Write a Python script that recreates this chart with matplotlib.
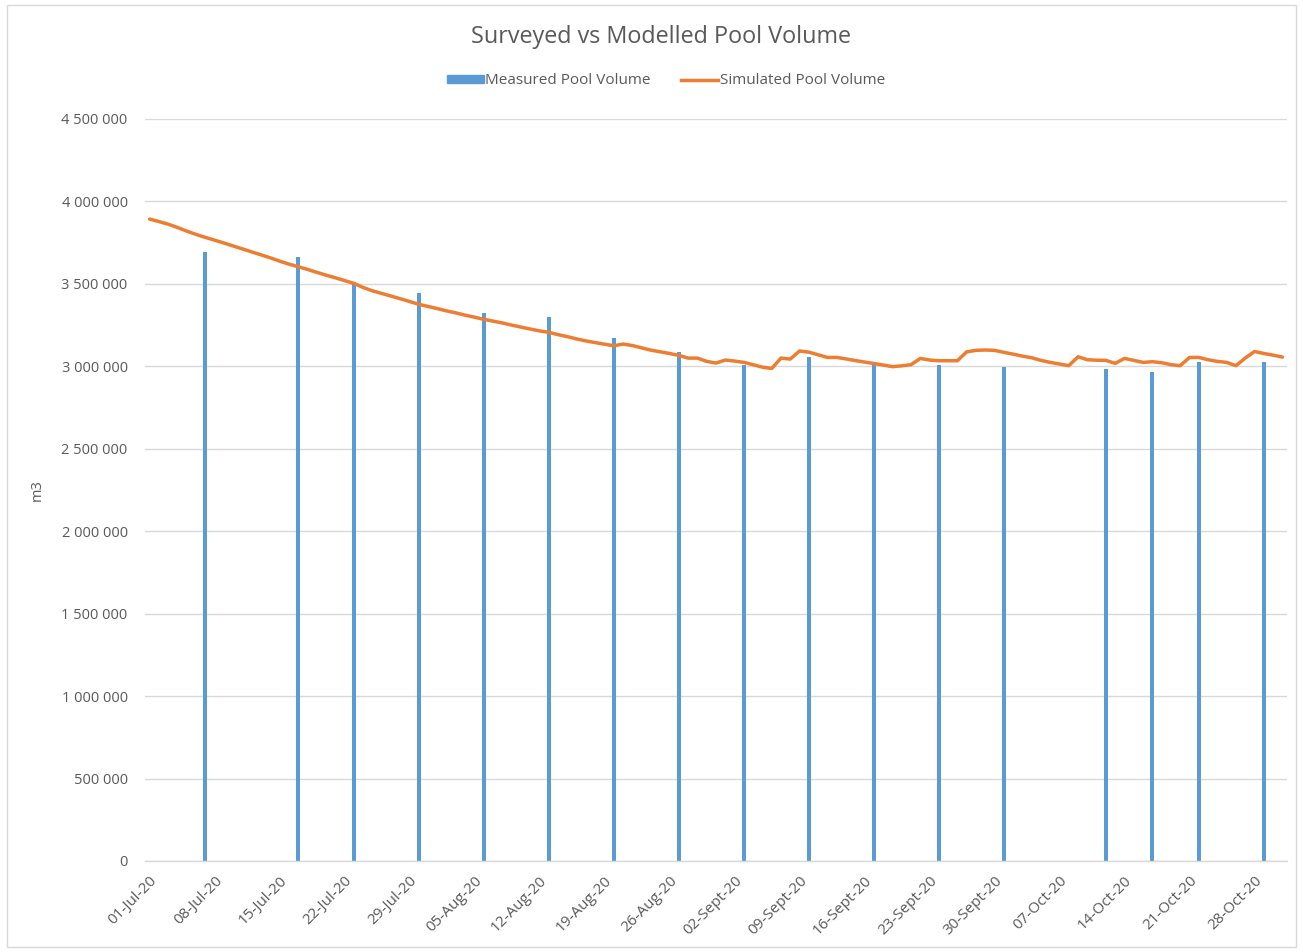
import matplotlib
matplotlib.use("Agg")
import matplotlib.pyplot as plt
from matplotlib.patches import Rectangle
from matplotlib.lines import Line2D
import numpy as np
import pandas as pd

# ---------------- data ----------------
measured_dates = ["2020-07-07", "2020-07-17", "2020-07-23", "2020-07-30", "2020-08-06",
                  "2020-08-13", "2020-08-20", "2020-08-27", "2020-09-03", "2020-09-10",
                  "2020-09-17", "2020-09-24", "2020-10-01", "2020-10-12", "2020-10-17",
                  "2020-10-22", "2020-10-29"]
measured_values = [3695000, 3661000, 3510000, 3443000, 3322000,
                   3297000, 3174000, 3085000, 3008000, 3058000,
                   3008000, 3008000, 2994000, 2984000, 2966000,
                   3025000, 3025000]

sim_start = "2020-07-01"
simulated_values_k = [
    3893, 3878, 3862, 3842, 3820, 3800, 3782, 3765, 3748, 3730,
    3712, 3694, 3676, 3658, 3638, 3620, 3604, 3588, 3570, 3553,
    3537, 3520, 3503, 3478, 3458, 3442, 3426, 3410, 3393, 3376,
    3363, 3350, 3336, 3324, 3310, 3298, 3285, 3274, 3263, 3250,
    3238, 3226, 3215, 3206, 3192, 3180, 3166, 3154, 3144, 3134,
    3125, 3135, 3126, 3112, 3098, 3088, 3078, 3066, 3050, 3050,
    3030, 3020, 3038, 3032, 3024, 3010, 2995, 2987, 3050, 3044,
    3093, 3086, 3070, 3054, 3054, 3045, 3035, 3026, 3017, 3008,
    2998, 3003, 3010, 3048, 3038, 3034, 3034, 3034, 3088, 3097,
    3099, 3097, 3085, 3074, 3062, 3052, 3036, 3024, 3014, 3004,
    3058, 3040, 3037, 3036, 3018, 3048, 3036, 3024, 3028, 3022,
    3010, 3004, 3054, 3054, 3040, 3030, 3024, 3004, 3050, 3090,
    3078, 3068, 3056]

tick_dates = ["2020-07-01", "2020-07-08", "2020-07-15", "2020-07-22", "2020-07-29",
              "2020-08-05", "2020-08-12", "2020-08-19", "2020-08-26", "2020-09-02",
              "2020-09-09", "2020-09-16", "2020-09-23", "2020-09-30", "2020-10-07",
              "2020-10-14", "2020-10-21", "2020-10-28"]
tick_labels = ["01-Jul-20", "08-Jul-20", "15-Jul-20", "22-Jul-20", "29-Jul-20",
               "05-Aug-20", "12-Aug-20", "19-Aug-20", "26-Aug-20", "02-Sept-20",
               "09-Sept-20", "16-Sept-20", "23-Sept-20", "30-Sept-20", "07-Oct-20",
               "14-Oct-20", "21-Oct-20", "28-Oct-20"]

y_ticks = [0, 500000, 1000000, 1500000, 2000000, 2500000, 3000000, 3500000, 4000000, 4500000]

title = "Surveyed vs Modelled Pool Volume"
bar_label = "Measured Pool Volume"
line_label = "Simulated Pool Volume"
y_label = "m3"

# ---------------- style ----------------
FONT = ["Open Sans", "DejaVu Sans"]
plt.rcParams["font.family"] = FONT
TXT = "#595959"
GRID = "#d9d9d9"
BLUE = "#5b9bd5"
ORANGE = "#ed7d31"

W, H = 1303, 952
fig = plt.figure(figsize=(W / 100, H / 100), dpi=100)
fig.patch.set_facecolor("white")

# chart border
fig.add_artist(Rectangle((7 / W, 5 / H), 1 - 14 / W, 1 - 10 / H, transform=fig.transFigure,
                         fill=False, edgecolor=GRID, linewidth=1.0))

ax = fig.add_axes([145 / W, 1 - 861 / H, (1287 - 145) / W, (861 - 119) / H])

mdates_meas = pd.to_datetime(measured_dates)
sim_dates = pd.date_range(sim_start, periods=len(simulated_values_k), freq="D")
sim_values = np.array(simulated_values_k) * 1000

ax.bar(mdates_meas, measured_values, width=0.42, color=BLUE, zorder=2)
ax.plot(sim_dates, sim_values, color=ORANGE, linewidth=2.5, zorder=3,
        solid_joinstyle="round", solid_capstyle="round")

x0 = pd.Timestamp("2020-07-01") - pd.Timedelta(hours=12)
x1 = pd.Timestamp("2020-10-31") + pd.Timedelta(hours=12)
ax.set_xlim(x0, x1)
ax.set_ylim(0, 4500000)

ax.set_yticks(y_ticks)
ax.set_yticklabels([f"{v:,}".replace(",", " ") for v in y_ticks])
ax.yaxis.grid(True, color=GRID, linewidth=1.0, zorder=0)
ax.set_axisbelow(True)

ax.set_xticks(pd.to_datetime(tick_dates))
ax.set_xticklabels(tick_labels, rotation=45, ha="right", va="top",
                   rotation_mode="anchor")

ax.tick_params(axis="both", length=0, colors=TXT)
ax.tick_params(axis="y", pad=12.5, labelsize=10.5)
ax.tick_params(axis="x", pad=9, labelsize=11)

for s in ["top", "right", "left"]:
    ax.spines[s].set_visible(False)
ax.spines["bottom"].set_color(GRID)
ax.spines["bottom"].set_linewidth(1.0)

ax.set_ylabel(y_label, color=TXT, fontsize=10.5)
ax.yaxis.set_label_coords(-(145 - 45) / (1287 - 145), 0.5)

fig.text(661 / W, 1 - 37 / H, title, ha="center", va="center", fontsize=16.8, color=TXT)

handles = [Rectangle((0, 0), 1, 1, color=BLUE),
           Line2D([0], [0], color=ORANGE, linewidth=2.5)]
leg = fig.legend(handles, [bar_label, line_label], loc="center",
                 bbox_to_anchor=(666 / W, 1 - 81 / H), ncol=2, frameon=False,
                 fontsize=11, handlelength=2.4, handleheight=0.45, handletextpad=0.1,
                 columnspacing=2.0)
for t in leg.get_texts():
    t.set_color(TXT)

fig.savefig("out.png", dpi=100, facecolor="white")
